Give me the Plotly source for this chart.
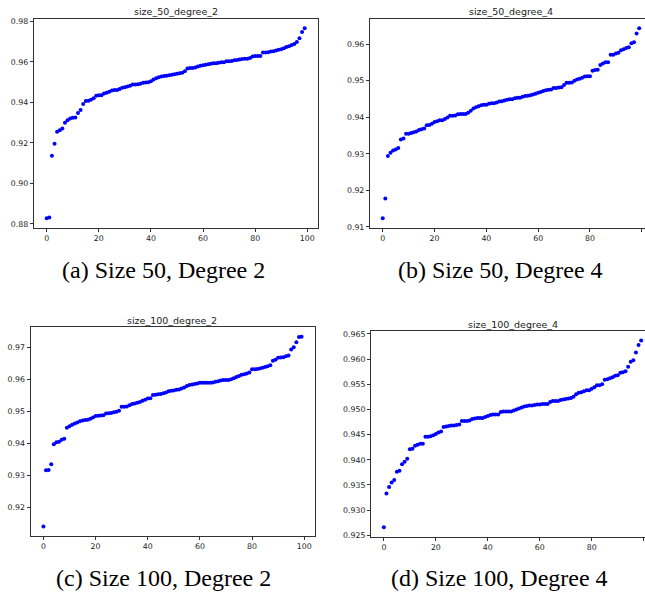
import plotly.graph_objects as go

W, H = 645, 597

index = list(range(100))

size50_deg2 = [
    0.8828, 0.8831, 0.9136, 0.9196, 0.9255, 0.9262, 0.9271, 0.9299, 0.9312, 0.9320,
    0.9324, 0.9325, 0.9348, 0.9363, 0.9392, 0.9407, 0.9408, 0.9413, 0.9420, 0.9433,
    0.9435, 0.9436, 0.9444, 0.9448, 0.9453, 0.9459, 0.9461, 0.9461, 0.9466, 0.9472,
    0.9475, 0.9479, 0.9482, 0.9488, 0.9488, 0.9490, 0.9492, 0.9497, 0.9498, 0.9500,
    0.9505, 0.9513, 0.9519, 0.9524, 0.9528, 0.9531, 0.9532, 0.9534, 0.9537, 0.9539,
    0.9541, 0.9544, 0.9547, 0.9554, 0.9567, 0.9570, 0.9570, 0.9572, 0.9578, 0.9581,
    0.9583, 0.9586, 0.9589, 0.9591, 0.9593, 0.9594, 0.9596, 0.9598, 0.9599, 0.9603,
    0.9603, 0.9604, 0.9608, 0.9609, 0.9612, 0.9614, 0.9616, 0.9616, 0.9619, 0.9627,
    0.9629, 0.9629, 0.9629, 0.9647, 0.9647, 0.9648, 0.9652, 0.9653, 0.9656, 0.9660,
    0.9663, 0.9668, 0.9674, 0.9678, 0.9684, 0.9689, 0.9699, 0.9717, 0.9748, 0.9766,
]

size50_deg4 = [
    0.9124, 0.9178, 0.9294, 0.9303, 0.9309, 0.9312, 0.9316, 0.9339, 0.9342, 0.9355,
    0.9355, 0.9357, 0.9359, 0.9361, 0.9365, 0.9367, 0.9369, 0.9378, 0.9379, 0.9382,
    0.9387, 0.9389, 0.9392, 0.9392, 0.9395, 0.9399, 0.9404, 0.9404, 0.9405, 0.9408,
    0.9409, 0.9409, 0.9409, 0.9412, 0.9418, 0.9424, 0.9427, 0.9430, 0.9433, 0.9434,
    0.9434, 0.9437, 0.9438, 0.9438, 0.9440, 0.9443, 0.9444, 0.9446, 0.9448, 0.9449,
    0.9449, 0.9452, 0.9453, 0.9453, 0.9456, 0.9458, 0.9459, 0.9460, 0.9462, 0.9464,
    0.9467, 0.9469, 0.9472, 0.9474, 0.9475, 0.9476, 0.9480, 0.9480, 0.9481, 0.9482,
    0.9488, 0.9494, 0.9494, 0.9495, 0.9500, 0.9503, 0.9505, 0.9508, 0.9511, 0.9512,
    0.9512, 0.9527, 0.9529, 0.9530, 0.9543, 0.9547, 0.9550, 0.9550, 0.9571, 0.9571,
    0.9574, 0.9576, 0.9583, 0.9586, 0.9589, 0.9591, 0.9602, 0.9605, 0.9629, 0.9643,
]

size100_deg2 = [
    0.9140, 0.9316, 0.9317, 0.9335, 0.9397, 0.9403, 0.9405, 0.9411, 0.9414, 0.9449,
    0.9453, 0.9458, 0.9462, 0.9465, 0.9469, 0.9471, 0.9473, 0.9474, 0.9477, 0.9481,
    0.9485, 0.9486, 0.9487, 0.9488, 0.9493, 0.9494, 0.9495, 0.9497, 0.9499, 0.9502,
    0.9514, 0.9514, 0.9515, 0.9519, 0.9523, 0.9524, 0.9527, 0.9529, 0.9533, 0.9536,
    0.9540, 0.9541, 0.9551, 0.9552, 0.9553, 0.9554, 0.9556, 0.9559, 0.9563, 0.9564,
    0.9565, 0.9567, 0.9568, 0.9571, 0.9574, 0.9579, 0.9582, 0.9584, 0.9585, 0.9587,
    0.9589, 0.9589, 0.9589, 0.9589, 0.9589, 0.9590, 0.9592, 0.9594, 0.9596, 0.9598,
    0.9598, 0.9598, 0.9600, 0.9603, 0.9607, 0.9610, 0.9614, 0.9616, 0.9618, 0.9621,
    0.9631, 0.9631, 0.9632, 0.9634, 0.9636, 0.9638, 0.9641, 0.9644, 0.9658, 0.9661,
    0.9667, 0.9668, 0.9669, 0.9672, 0.9674, 0.9693, 0.9700, 0.9716, 0.9732, 0.9733,
]

size100_deg4 = [
    0.9266, 0.9333, 0.9346, 0.9355, 0.9360, 0.9376, 0.9378, 0.9391, 0.9396, 0.9402,
    0.9421, 0.9422, 0.9428, 0.9430, 0.9432, 0.9432, 0.9446, 0.9446, 0.9447, 0.9449,
    0.9451, 0.9454, 0.9456, 0.9465, 0.9466, 0.9467, 0.9468, 0.9468, 0.9469, 0.9470,
    0.9477, 0.9477, 0.9477, 0.9478, 0.9481, 0.9482, 0.9483, 0.9483, 0.9483, 0.9485,
    0.9487, 0.9489, 0.9490, 0.9490, 0.9490, 0.9495, 0.9496, 0.9496, 0.9496, 0.9496,
    0.9498, 0.9500, 0.9502, 0.9504, 0.9506, 0.9507, 0.9508, 0.9508, 0.9509, 0.9510,
    0.9510, 0.9511, 0.9511, 0.9511, 0.9515, 0.9517, 0.9517, 0.9517, 0.9519, 0.9520,
    0.9521, 0.9522, 0.9523, 0.9525, 0.9530, 0.9533, 0.9534, 0.9536, 0.9538, 0.9538,
    0.9541, 0.9544, 0.9548, 0.9548, 0.9550, 0.9559, 0.9560, 0.9562, 0.9564, 0.9567,
    0.9568, 0.9573, 0.9574, 0.9576, 0.9585, 0.9595, 0.9598, 0.9613, 0.9628, 0.9637,
]

titles = ["size_50_degree_2", "size_50_degree_4", "size_100_degree_2", "size_100_degree_4"]
captions = ["(a) Size 50, Degree 2", "(b) Size 50, Degree 4",
            "(c) Size 100, Degree 2", "(d) Size 100, Degree 4"]
series = [size50_deg2, size50_deg4, size100_deg2, size100_deg4]
x_ticks = [0, 20, 40, 60, 80, 100]
y_dticks = [0.02, 0.01, 0.01, 0.005]
y_formats = [".2f", ".2f", ".2f", ".3f"]

# Axes boxes in page pixels: left, right, top, bottom (right edge may run off the page)
boxes = [(33.8, 317.6, 17.0, 228.0),
         (369.9, 652.0, 17.0, 228.0),
         (30.5, 314.5, 328.5, 539.5),
         (371.0, 654.0, 332.5, 540.0)]
caption_pos = [(163, 271), (500, 271), (163, 582), (499, 582)]

AX_FONT = dict(family="DejaVu Sans", size=7.8, color="#222222")

fig = go.Figure()
annotations = []

for k in range(4):
    vals = series[k]
    n = len(vals)
    left, right, top, bottom = boxes[k]
    # matplotlib-style 5% data margins
    x0, x1 = 0, n - 1
    xpad = 0.05 * (x1 - x0)
    xr = [x0 - xpad, x1 + xpad]
    ylo, yhi = min(vals), max(vals)
    ypad = 0.05 * (yhi - ylo)
    yr = [ylo - ypad, yhi + ypad]

    # panels running past the page edge keep their scale and are cut at the border
    clipped = right > W
    if clipped:
        ppu = (right - left) / (xr[1] - xr[0])
        xr = [xr[0], xr[0] + (W - left) / ppu]
        dom_r = 1.0
    else:
        dom_r = right / W
    xd = [left / W, dom_r]
    yd = [1 - bottom / H, 1 - top / H]

    sfx = "" if k == 0 else str(k + 1)
    fig.add_trace(go.Scatter(
        x=index[:n], y=vals, mode="markers",
        marker=dict(color="#0000ff", size=4, line=dict(width=0)),
        xaxis="x" + sfx, yaxis="y" + sfx, showlegend=False, hoverinfo="x+y",
    ))

    fig.layout["xaxis" + sfx] = dict(
        domain=xd, range=xr, anchor="y" + sfx, tickvals=x_ticks,
        showline=True, linecolor="#333333", linewidth=1, mirror=True,
        ticks="outside", ticklen=3, tickcolor="#333333", tickfont=AX_FONT,
        showgrid=False, zeroline=False, fixedrange=True,
    )
    fig.layout["yaxis" + sfx] = dict(
        domain=yd, range=yr, anchor="x" + sfx, dtick=y_dticks[k],
        tick0=0, tickformat=y_formats[k],
        showline=True, linecolor="#333333", linewidth=1,
        mirror=False if clipped else True,
        ticks="outside", ticklen=3, tickcolor="#333333", tickfont=AX_FONT,
        showgrid=False, zeroline=False, fixedrange=True,
    )

    annotations.append(dict(
        text=titles[k], xref="paper", yref="paper",
        x=((left + right) / 2) / W, y=1 - (top - 7) / H,
        xanchor="center", yanchor="middle", showarrow=False,
        font=dict(family="DejaVu Sans", size=9.5, color="#222222"),
    ))
    cx, cy = caption_pos[k]
    annotations.append(dict(
        text=captions[k], xref="paper", yref="paper",
        x=cx / W, y=1 - cy / H, xanchor="center", yanchor="middle",
        showarrow=False,
        font=dict(family="Liberation Serif", size=24, color="#000000"),
    ))

fig.update_layout(
    width=W, height=H, autosize=False,
    margin=dict(l=0, r=0, t=0, b=0),
    paper_bgcolor="white", plot_bgcolor="white",
    annotations=annotations,
)

fig.write_html("out.html")
